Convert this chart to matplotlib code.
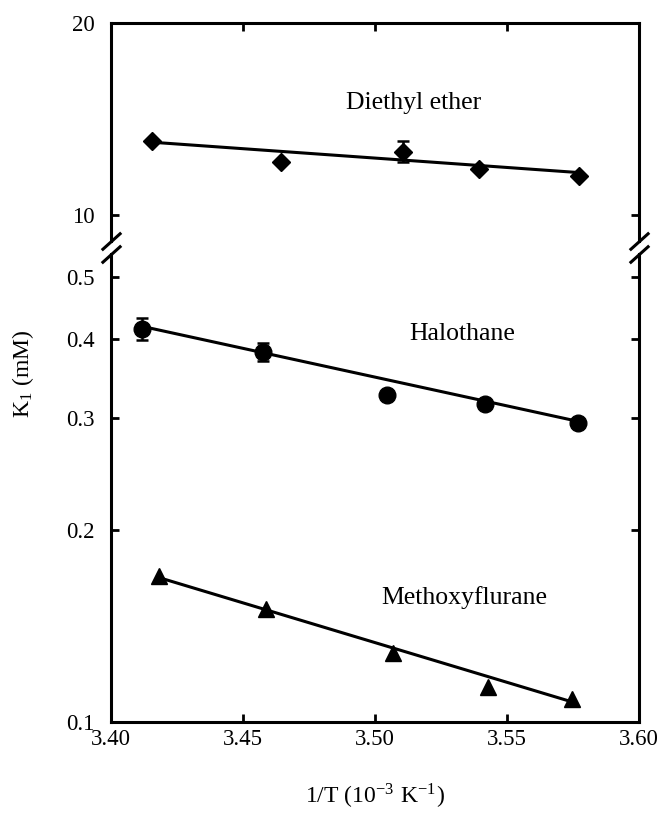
import numpy as np
import matplotlib
matplotlib.use('Agg')
import matplotlib.pyplot as plt
from matplotlib.ticker import FixedLocator, NullLocator, FixedFormatter

plt.rcParams['font.family'] = ['Liberation Serif', 'DejaVu Serif']
plt.rcParams['mathtext.fontset'] = 'stix'

### Data ###
# Diethyl ether (upper panel)
ether_x = [3.4157, 3.4644, 3.5106, 3.5394, 3.5773]
ether_k = [13.08, 12.12, 12.57, 11.81, 11.49]
ether_err = [0.0, 0.0, 0.48, 0.0, 0.0]
ether_fit_x = [3.4157, 3.5773]
ether_fit_k = [13.0, 11.65]

# Halothane (lower panel)
halo_x = [3.4116, 3.4575, 3.5044, 3.5417, 3.5770]
halo_k = [0.4153, 0.3816, 0.3262, 0.3165, 0.2946]
halo_err = [0.0165, 0.012, 0.0, 0.0, 0.0]
halo_fit_x = [3.4116, 3.5770]
halo_fit_k = [0.4188, 0.2968]

# Methoxyflurane (lower panel)
meth_x = [3.4183, 3.4587, 3.5069, 3.5429, 3.5745]
meth_k = [0.1694, 0.1507, 0.1286, 0.1134, 0.1086]
meth_fit_x = [3.4183, 3.5745]
meth_fit_k = [0.1686, 0.1076]

x_ticks = [3.40, 3.45, 3.50, 3.55, 3.60]
x_ticklabels = ['3.40', '3.45', '3.50', '3.55', '3.60']
top_yticks = [10, 20]
top_yticklabels = ['10', '20']
bot_yticks = [0.1, 0.2, 0.3, 0.4, 0.5]
bot_yticklabels = ['0.1', '0.2', '0.3', '0.4', '0.5']

### Figure ###
fig = plt.figure(figsize=(6.63, 8.13), dpi=100)
ax_top = fig.add_axes([0.1674, 0.7036, 0.7964, 0.2681])
ax_bot = fig.add_axes([0.1674, 0.1119, 0.7964, 0.5757])

lw = 2.2
tick_fs = 16.5
label_fs = 18.5

for ax in (ax_top, ax_bot):
    ax.set_yscale('log')
    ax.set_xlim(3.40, 3.60)
    ax.xaxis.set_major_locator(FixedLocator(x_ticks))
    ax.xaxis.set_minor_locator(NullLocator())
    ax.yaxis.set_minor_locator(NullLocator())
    for s in ax.spines.values():
        s.set_linewidth(lw)
    ax.tick_params(which='major', direction='in', length=6, width=2,
                   labelsize=tick_fs, right=True, pad=5)
    ax.tick_params(axis='y', pad=12)

# upper panel
ax_top.set_ylim(9.1, 20)
ax_top.yaxis.set_major_locator(FixedLocator(top_yticks))
ax_top.yaxis.set_major_formatter(FixedFormatter(top_yticklabels))
ax_top.spines['bottom'].set_visible(False)
ax_top.tick_params(axis='x', top=True, bottom=False, labelbottom=False)

ax_top.errorbar(ether_x, ether_k, yerr=ether_err, fmt='none', ecolor='k',
                elinewidth=1.8, capsize=4, capthick=1.8, zorder=2)
ax_top.plot(ether_fit_x, ether_fit_k, color='k', lw=2.2, zorder=2)
ax_top.plot(ether_x, ether_k, linestyle='none', marker='D', ms=9.5,
            color='k', zorder=3)
ax_top.text(3.5148, 15.0, 'Diethyl ether', fontsize=label_fs,
            ha='center', va='center')

# lower panel
ax_bot.set_ylim(0.1, 0.544)
ax_bot.yaxis.set_major_locator(FixedLocator(bot_yticks))
ax_bot.yaxis.set_major_formatter(FixedFormatter(bot_yticklabels))
ax_bot.xaxis.set_major_formatter(FixedFormatter(x_ticklabels))
ax_bot.spines['top'].set_visible(False)
ax_bot.tick_params(axis='x', top=False, bottom=True)

ax_bot.errorbar(halo_x, halo_k, yerr=halo_err, fmt='none', ecolor='k',
                elinewidth=1.8, capsize=4, capthick=1.8, zorder=2)
ax_bot.plot(halo_fit_x, halo_fit_k, color='k', lw=2.2, zorder=2)
ax_bot.plot(halo_x, halo_k, linestyle='none', marker='o', ms=12,
            color='k', zorder=3)
ax_bot.text(3.533, 0.407, 'Halothane', fontsize=label_fs,
            ha='center', va='center')

ax_bot.plot(meth_fit_x, meth_fit_k, color='k', lw=2.2, zorder=2)
ax_bot.plot(meth_x, meth_k, linestyle='none', marker='^', ms=11.5,
            color='k', zorder=3)
ax_bot.text(3.5337, 0.1568, 'Methoxyflurane', fontsize=label_fs,
            ha='center', va='center')

# break marks on both sides
kw = dict(marker=[(-1, -0.9), (1, 0.9)], markersize=14, linestyle='none',
          color='k', mec='k', mew=2.2, clip_on=False)
ax_top.plot([0, 1], [0, 0], transform=ax_top.transAxes, **kw)
ax_bot.plot([0, 1], [1, 1], transform=ax_bot.transAxes, **kw)

# axis labels
fig.text(0.5656, 0.021, r'1/T (10$^{\mathregular{-3}}$ K$^{\mathregular{-1}}$)',
         fontsize=17, ha='center', va='center')
fig.text(0.0347, 0.54, r'K$_{\mathregular{1}}$ (mM)', fontsize=17,
         rotation=90, ha='center', va='center')

fig.savefig('out.png', dpi=100)
